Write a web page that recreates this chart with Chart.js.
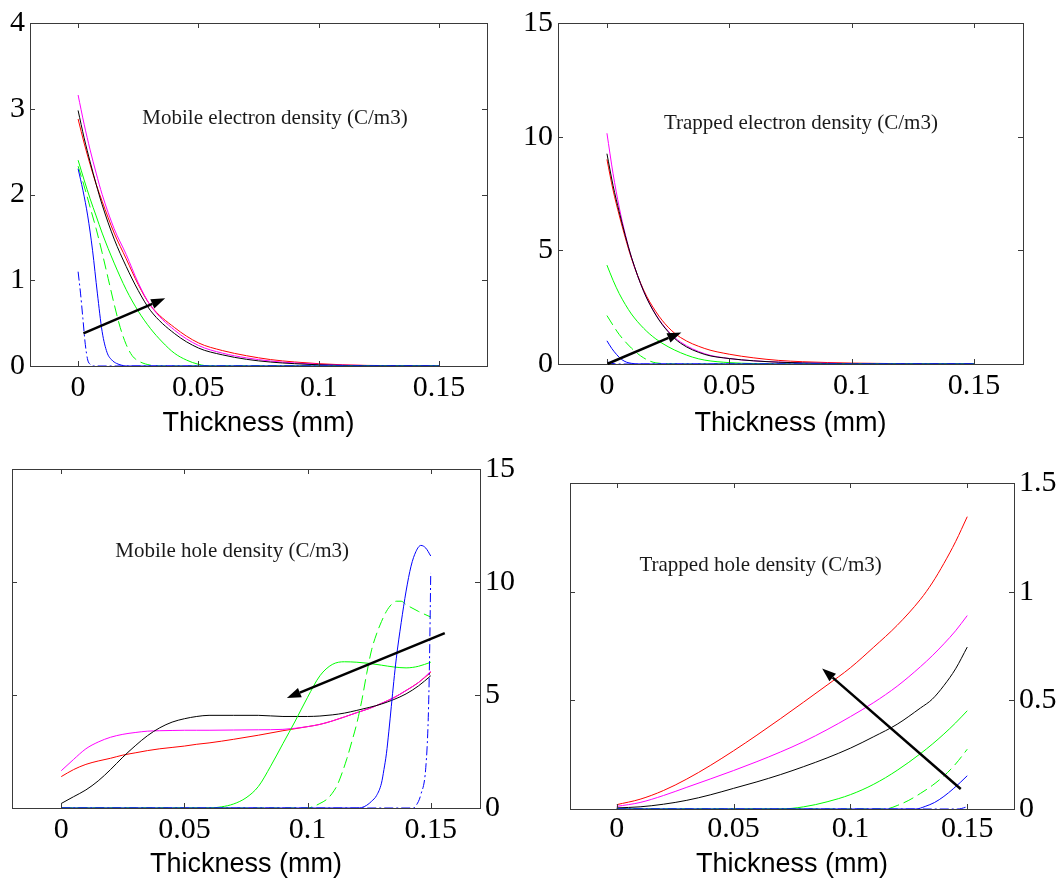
<!DOCTYPE html>
<html><head><meta charset="utf-8">
<script src="https://cdn.jsdelivr.net/npm/chart.js@4"></script>
<style>
body{margin:0;background:#fff}
#wrap{position:relative;width:1060px;height:881px;background:#fff;overflow:hidden}
canvas{position:absolute}
</style></head>
<body><div id="wrap">
<canvas id="c1" width="520" height="440" style="left:0;top:0"></canvas>
<canvas id="c2" width="540" height="440" style="left:520px;top:0"></canvas>
<canvas id="c3" width="520" height="441" style="left:0;top:440px"></canvas>
<canvas id="c4" width="540" height="441" style="left:520px;top:440px"></canvas>
</div>
<script>
// ---------- shared ticks ----------
const xTicks = [0, 0.05, 0.1, 0.15];
const xLabel = 'Thickness (mm)';

// ---------- Panel 1: Mobile electron density ----------
const p1Title = 'Mobile electron density (C/m3)';
const p1YTicks = [0, 1, 2, 3, 4];
const p1X = [0, 0.0025, 0.005, 0.0075, 0.01, 0.015, 0.02, 0.025, 0.03, 0.04, 0.05, 0.06, 0.07, 0.08, 0.09, 0.1, 0.11, 0.12, 0.15];
const p1Magenta = [3.16, 2.82, 2.52, 2.25, 2.0, 1.6, 1.3, 0.97, 0.71, 0.42, 0.24, 0.15, 0.095, 0.058, 0.035, 0.02, 0.01, 0.005, 0];
const p1Red = [2.88, 2.6, 2.35, 2.12, 1.92, 1.55, 1.25, 0.95, 0.71, 0.45, 0.27, 0.18, 0.12, 0.075, 0.047, 0.027, 0.014, 0.007, 0];
const p1Black = [2.98, 2.66, 2.38, 2.12, 1.88, 1.48, 1.16, 0.88, 0.65, 0.38, 0.21, 0.13, 0.078, 0.046, 0.027, 0.014, 0.007, 0.003, 0];
const p1GreenX = [0, 0.0025, 0.005, 0.0075, 0.01, 0.015, 0.02, 0.025, 0.03, 0.035, 0.04, 0.045, 0.05, 0.055, 0.15];
const p1GreenY = [2.4, 2.17, 1.95, 1.75, 1.55, 1.2, 0.89, 0.64, 0.44, 0.28, 0.15, 0.07, 0.02, 0, 0];
const p1GreenDashX = [0, 0.0025, 0.005, 0.0075, 0.01, 0.0125, 0.015, 0.0175, 0.02, 0.0225, 0.025, 0.03, 0.035, 0.15];
const p1GreenDashY = [2.33, 2.1, 1.85, 1.6, 1.32, 1.02, 0.72, 0.45, 0.25, 0.12, 0.06, 0.01, 0, 0];
const p1BlueX = [0, 0.002, 0.004, 0.006, 0.008, 0.01, 0.012, 0.014, 0.016, 0.018, 0.02, 0.15];
const p1BlueY = [2.3, 2.05, 1.75, 1.35, 0.85, 0.4, 0.16, 0.07, 0.03, 0.01, 0, 0];
const p1BlueDashX = [0, 0.001, 0.002, 0.003, 0.004, 0.005, 0.006, 0.15];
const p1BlueDashY = [1.1, 0.85, 0.55, 0.25, 0.07, 0.02, 0, 0];
const p1Arrow = [0.0022, 0.38, 0.0362, 0.79];
const p1TitlePos = [0.0267, 2.89];

// ---------- Panel 2: Trapped electron density ----------
const p2Title = 'Trapped electron density (C/m3)';
const p2YTicks = [0, 5, 10, 15];
const p2X = [0, 0.0025, 0.005, 0.0075, 0.01, 0.015, 0.02, 0.025, 0.03, 0.04, 0.05, 0.06, 0.07, 0.08, 0.09, 0.1, 0.12, 0.15];
const p2Magenta = [10.15, 8.37, 6.9, 5.7, 4.7, 3.2, 2.17, 1.45, 0.97, 0.45, 0.24, 0.14, 0.085, 0.05, 0.03, 0.018, 0.005, 0];
const p2Black = [9.25, 7.85, 6.7, 5.65, 4.7, 3.2, 2.15, 1.42, 0.92, 0.42, 0.24, 0.14, 0.08, 0.045, 0.025, 0.015, 0.004, 0];
const p2Red = [9.0, 7.65, 6.55, 5.55, 4.65, 3.25, 2.3, 1.62, 1.17, 0.68, 0.43, 0.27, 0.16, 0.1, 0.065, 0.04, 0.015, 0];
const p2GreenX = [0, 0.0025, 0.005, 0.0075, 0.01, 0.015, 0.02, 0.025, 0.03, 0.035, 0.04, 0.05, 0.06, 0.07, 0.15];
const p2GreenY = [4.35, 3.68, 3.1, 2.62, 2.2, 1.57, 1.1, 0.76, 0.5, 0.3, 0.17, 0.06, 0.02, 0, 0];
const p2GreenDashX = [0, 0.0025, 0.005, 0.0075, 0.01, 0.0125, 0.015, 0.0175, 0.02, 0.025, 0.03, 0.15];
const p2GreenDashY = [2.13, 1.7, 1.3, 0.98, 0.7, 0.46, 0.27, 0.13, 0.05, 0.01, 0, 0];
const p2BlueX = [0, 0.002, 0.004, 0.006, 0.008, 0.01, 0.012, 0.015, 0.15];
const p2BlueY = [1.02, 0.68, 0.41, 0.2, 0.08, 0.03, 0.005, 0, 0];
const p2BlueDashX = [0, 0.002, 0.004, 0.15];
const p2BlueDashY = [0.1, 0.03, 0, 0];
const p2Arrow = [0.0003, 0.01, 0.0304, 1.39];
const p2TitlePos = [0.0233, 10.6];

// ---------- Panel 3: Mobile hole density ----------
const p3Title = 'Mobile hole density (C/m3)';
const p3YTicks = [0, 5, 10, 15];
const p3X = [0, 0.005, 0.01, 0.015, 0.02, 0.025, 0.03, 0.035, 0.04, 0.045, 0.05, 0.055, 0.06, 0.07, 0.08, 0.09, 0.1, 0.105, 0.11, 0.115, 0.12, 0.125, 0.13, 0.135, 0.14, 0.145, 0.15];
const p3Black = [0.2, 0.5, 0.8, 1.2, 1.7, 2.25, 2.75, 3.2, 3.55, 3.8, 3.95, 4.05, 4.1, 4.1, 4.1, 4.05, 4.05, 4.07, 4.12, 4.2, 4.32, 4.45, 4.6, 4.8, 5.05, 5.4, 5.85];
const p3Magenta = [1.65, 2.15, 2.62, 2.92, 3.13, 3.26, 3.34, 3.4, 3.42, 3.43, 3.44, 3.44, 3.44, 3.45, 3.46, 3.48, 3.6, 3.7, 3.85, 4.03, 4.22, 4.4, 4.63, 4.88, 5.2, 5.55, 6.05];
const p3Red = [1.39, 1.7, 1.93, 2.08, 2.2, 2.34, 2.44, 2.54, 2.62, 2.68, 2.74, 2.82, 2.88, 3.04, 3.22, 3.42, 3.6, 3.7, 3.85, 4.03, 4.22, 4.4, 4.63, 4.88, 5.2, 5.55, 6.0];
const p3GreenX = [0, 0.06, 0.065, 0.07, 0.075, 0.08, 0.085, 0.09, 0.095, 0.1, 0.105, 0.11, 0.115, 0.12, 0.125, 0.13, 0.135, 0.14, 0.145, 0.15];
const p3GreenY = [0, 0, 0.05, 0.18, 0.45, 0.95, 1.85, 2.85, 3.85, 4.9, 5.85, 6.35, 6.47, 6.45, 6.4, 6.32, 6.24, 6.2, 6.27, 6.45];
const p3GreenDashX = [0, 0.1, 0.102, 0.105, 0.108, 0.11, 0.112, 0.114, 0.116, 0.118, 0.12, 0.122, 0.124, 0.126, 0.128, 0.13, 0.132, 0.134, 0.136, 0.138, 0.14, 0.145, 0.15];
const p3GreenDashY = [0, 0, 0.05, 0.2, 0.4, 0.65, 1.0, 1.55, 2.2, 2.95, 3.75, 4.75, 5.95, 7.0, 7.7, 8.25, 8.7, 9.0, 9.15, 9.15, 9.0, 8.7, 8.45];
const p3BlueX = [0, 0.12, 0.122, 0.124, 0.126, 0.128, 0.13, 0.131, 0.132, 0.133, 0.134, 0.135, 0.136, 0.138, 0.14, 0.142, 0.144, 0.146, 0.148, 0.15];
const p3BlueY = [0, 0, 0.02, 0.12, 0.3, 0.55, 1.1, 1.7, 2.4, 3.4, 4.5, 5.6, 6.6, 8.2, 9.6, 10.7, 11.35, 11.62, 11.5, 11.15];
const p3BlueDashX = [0, 0.143, 0.144, 0.146, 0.148, 0.149, 0.1495, 0.15];
const p3BlueDashY = [0, 0, 0.1, 0.6, 1.8, 4.0, 6.5, 10.4];
const p3Arrow = [0.1557, 7.74, 0.0916, 4.87];
const p3TitlePos = [0.0219, 11.33];

// ---------- Panel 4: Trapped hole density ----------
const p4Title = 'Trapped hole density (C/m3)';
const p4YTicks = [0, 0.5, 1, 1.5];
const p4X = [0, 0.01, 0.02, 0.03, 0.04, 0.05, 0.06, 0.07, 0.08, 0.09, 0.1, 0.11, 0.12, 0.13, 0.135, 0.14, 0.145, 0.15];
const p4Red = [0.02, 0.045, 0.085, 0.138, 0.2, 0.268, 0.34, 0.415, 0.492, 0.57, 0.65, 0.745, 0.845, 0.965, 1.04, 1.13, 1.23, 1.345];
const p4Magenta = [0.012, 0.03, 0.062, 0.1, 0.138, 0.177, 0.218, 0.262, 0.31, 0.365, 0.425, 0.49, 0.565, 0.655, 0.705, 0.76, 0.82, 0.89];
const p4Black = [0.005, 0.01, 0.022, 0.04, 0.065, 0.095, 0.125, 0.158, 0.195, 0.235, 0.28, 0.333, 0.39, 0.465, 0.505, 0.568, 0.645, 0.745];
const p4GreenX = [0, 0.07, 0.075, 0.08, 0.085, 0.09, 0.095, 0.1, 0.105, 0.11, 0.115, 0.12, 0.125, 0.13, 0.135, 0.14, 0.145, 0.15];
const p4GreenY = [0, 0, 0.003, 0.01, 0.02, 0.033, 0.048, 0.066, 0.088, 0.114, 0.144, 0.178, 0.215, 0.255, 0.298, 0.345, 0.396, 0.452];
const p4GreenDashX = [0, 0.115, 0.12, 0.125, 0.13, 0.135, 0.14, 0.145, 0.15];
const p4GreenDashY = [0, 0, 0.016, 0.04, 0.072, 0.108, 0.152, 0.207, 0.275];
const p4BlueX = [0, 0.128, 0.132, 0.136, 0.14, 0.144, 0.147, 0.15];
const p4BlueY = [0, 0, 0.012, 0.03, 0.058, 0.093, 0.122, 0.153];
const p4BlueDashX = [0, 0.146, 0.15];
const p4BlueDashY = [0, 0, 0.01];
const p4Arrow = [0.1472, 0.092, 0.0879, 0.647];
const p4TitlePos = [0.0097, 1.12];

// ---------- helpers ----------
const zip = (xs, ys) => xs.map((x, i) => ({x, y: ys[i]}));
const STY = {
  blueDash: {c: '#0000ff', d: [9, 3, 2, 3]},
  blue: {c: '#0000ff', d: []},
  greenDash: {c: '#00ff00', d: [11, 5]},
  green: {c: '#00ff00', d: []},
  black: {c: '#000000', d: []},
  magenta: {c: '#ff00ff', d: []},
  red: {c: '#ff0000', d: []}
};
function ds(style, xs, ys) {
  const s = STY[style];
  return {data: zip(xs, ys), borderColor: s.c, borderDash: s.d, borderWidth: 1,
    pointRadius: 0, fill: false, cubicInterpolationMode: 'monotone'};
}

const framePlugin = {
  id: 'frame',
  afterDatasetsDraw(chart) {
    const {ctx, chartArea: a, scales: {x, y}} = chart;
    const cfg = chart.options.plugins.frame;
    ctx.save();
    ctx.strokeStyle = '#3a3a3a';
    ctx.lineWidth = 1;
    ctx.setLineDash([]);
    ctx.strokeRect(Math.round(a.left) + 0.5, Math.round(a.top) + 0.5, Math.round(a.right - a.left), Math.round(a.bottom - a.top));
    const tl = 5;
    ctx.beginPath();
    cfg.xt.forEach(v => {
      const px = Math.round(x.getPixelForValue(v)) + 0.5;
      ctx.moveTo(px, a.bottom); ctx.lineTo(px, a.bottom - tl);
      ctx.moveTo(px, a.top); ctx.lineTo(px, a.top + tl);
    });
    cfg.yt.forEach(v => {
      const py = Math.round(y.getPixelForValue(v)) + 0.5;
      ctx.moveTo(a.left, py); ctx.lineTo(a.left + tl, py);
      ctx.moveTo(a.right, py); ctx.lineTo(a.right - tl, py);
    });
    ctx.stroke();
    // title text inside plot
    ctx.fillStyle = '#1a1a1a';
    ctx.font = '21px "Liberation Serif", "Times New Roman", serif';
    ctx.textAlign = 'left';
    ctx.textBaseline = 'middle';
    ctx.fillText(cfg.title, x.getPixelForValue(cfg.tp[0]), y.getPixelForValue(cfg.tp[1]));
    // arrow
    const ar = cfg.arrow;
    const x0 = x.getPixelForValue(ar[0]), y0 = y.getPixelForValue(ar[1]);
    const x1 = x.getPixelForValue(ar[2]), y1 = y.getPixelForValue(ar[3]);
    const ang = Math.atan2(y1 - y0, x1 - x0);
    const hl = 14, hw = 5;
    const bx = x1 - hl * Math.cos(ang), by = y1 - hl * Math.sin(ang);
    ctx.strokeStyle = '#000';
    ctx.lineWidth = 2.5;
    ctx.beginPath(); ctx.moveTo(x0, y0); ctx.lineTo(bx, by); ctx.stroke();
    ctx.fillStyle = '#000';
    ctx.beginPath();
    ctx.moveTo(x1, y1);
    ctx.lineTo(bx + hw * Math.sin(ang), by - hw * Math.cos(ang));
    ctx.lineTo(bx - hw * Math.sin(ang), by + hw * Math.cos(ang));
    ctx.closePath(); ctx.fill();
    ctx.restore();
  }
};

function makePanel(id, p) {
  new Chart(document.getElementById(id), {
    type: 'line',
    data: {datasets: p.datasets},
    options: {
      responsive: false, animation: false, events: [],
      layout: {padding: p.pad},
      plugins: {legend: {display: false}, tooltip: {enabled: false},
        frame: {xt: xTicks, yt: p.yTicks, title: p.title, tp: p.tp, arrow: p.arrow}},
      scales: {
        x: {type: 'linear', position: 'bottom', min: -0.02, max: 0.17,
          afterBuildTicks: s => { s.ticks = xTicks.map(v => ({value: v})); },
          afterFit: s => { s.height = p.xH; },
          grid: {display: false, drawTicks: false}, border: {display: false},
          ticks: {autoSkip: false, maxRotation: 0, padding: p.xPad, color: '#000',
            font: {family: '"Liberation Serif", "Times New Roman", serif', size: 30},
            callback: v => String(v)},
          title: {display: true, text: xLabel, color: '#000',
            font: {family: '"Liberation Sans", Arial, sans-serif', size: 27},
            padding: {top: 0, bottom: p.tPad}}
        },
        y: {type: 'linear', position: p.yPos, min: p.yTicks[0], max: p.yTicks[p.yTicks.length - 1],
          afterBuildTicks: s => { s.ticks = p.yTicks.map(v => ({value: v})); },
          afterFit: s => { s.width = p.yW; },
          grid: {display: false, drawTicks: false}, border: {display: false},
          ticks: {autoSkip: false, padding: 5, color: '#000',
            font: {family: '"Liberation Serif", "Times New Roman", serif', size: 30},
            callback: v => String(v)}
        }
      }
    },
    plugins: [framePlugin]
  });
}

makePanel('c1', {
  datasets: [ds('blueDash', p1BlueDashX, p1BlueDashY), ds('blue', p1BlueX, p1BlueY),
    ds('greenDash', p1GreenDashX, p1GreenDashY), ds('green', p1GreenX, p1GreenY),
    ds('black', p1X, p1Black), ds('magenta', p1X, p1Magenta), ds('red', p1X, p1Red)],
  yTicks: p1YTicks, yPos: 'left', yW: 30, xH: 74, xPad: 4, tPad: 0,
  pad: {left: 0, right: 33, top: 23, bottom: 0},
  title: p1Title, tp: p1TitlePos, arrow: p1Arrow
});
makePanel('c2', {
  datasets: [ds('blueDash', p2BlueDashX, p2BlueDashY), ds('blue', p2BlueX, p2BlueY),
    ds('greenDash', p2GreenDashX, p2GreenDashY), ds('green', p2GreenX, p2GreenY),
    ds('black', p2X, p2Black), ds('magenta', p2X, p2Magenta), ds('red', p2X, p2Red)],
  yTicks: p2YTicks, yPos: 'left', yW: 38, xH: 76, xPad: 4, tPad: 0,
  pad: {left: 0, right: 37, top: 19, bottom: 0},
  title: p2Title, tp: p2TitlePos, arrow: p2Arrow
});
makePanel('c3', {
  datasets: [ds('blueDash', p3BlueDashX, p3BlueDashY), ds('blue', p3BlueX, p3BlueY),
    ds('greenDash', p3GreenDashX, p3GreenDashY), ds('green', p3GreenX, p3GreenY),
    ds('black', p3X, p3Black), ds('magenta', p3X, p3Magenta), ds('red', p3X, p3Red)],
  yTicks: p3YTicks, yPos: 'right', yW: 40, xH: 73, xPad: 4, tPad: 0,
  pad: {left: 12, right: 0, top: 29, bottom: 0},
  title: p3Title, tp: p3TitlePos, arrow: p3Arrow
});
makePanel('c4', {
  datasets: [ds('blueDash', p4BlueDashX, p4BlueDashY), ds('blue', p4BlueX, p4BlueY),
    ds('greenDash', p4GreenDashX, p4GreenDashY), ds('green', p4GreenX, p4GreenY),
    ds('black', p4X, p4Black), ds('magenta', p4X, p4Magenta), ds('red', p4X, p4Red)],
  yTicks: p4YTicks, yPos: 'right', yW: 46, xH: 72, xPad: 2, tPad: 0,
  pad: {left: 50, right: 0, top: 43, bottom: 0},
  title: p4Title, tp: p4TitlePos, arrow: p4Arrow
});
</script>
</body></html>
